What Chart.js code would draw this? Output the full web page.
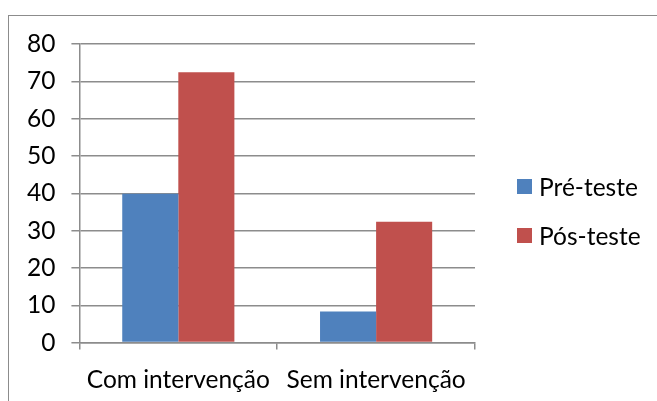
<!DOCTYPE html>
<html>
<head>
<meta charset="utf-8">
<script src="https://cdn.jsdelivr.net/npm/chart.js@4.4.1/dist/chart.umd.min.js"></script>
<style>
    body { margin: 0; background: #fff; }
    #wrap { position: relative; width: 657px; height: 401px; overflow: hidden; }
    #frame { position: absolute; left: 8px; top: 15px; width: 660px; height: 400px; border: 1.5px solid #8c8c8c; box-sizing: border-box; }
    canvas { position: absolute; left: 0; top: 0; }
    #legend { position: absolute; left: 517px; top: 162px; font-family: Lato, sans-serif; font-size: 24.5px; color: #000; }
    #legend .item { display: flex; align-items: center; height: 49px; }
    #legend .box { width: 15px; height: 15px; margin-right: 7px; }
</style>
</head>
<body>
<div id="wrap">
    <div id="frame"></div>
    <canvas id="chart" width="657" height="401"></canvas>
    <div id="legend"></div>
</div>
<script>
const categories = ['Com intervenção', 'Sem intervenção'];
const seriesNames = ['Pré-teste', 'Pós-teste'];
const preTeste = [39.9, 8.3];
const posTeste = [72.4, 32.4];

const fontSize = 24.5;

const ctx = document.getElementById('chart').getContext('2d');
const chart = new Chart(ctx, {
    type: 'bar',
    data: {
        labels: categories,
        datasets: [{
            label: seriesNames[0],
            data: preTeste,
            backgroundColor: '#4F81BD',
            barPercentage: 1.0,
            categoryPercentage: 0.567
        }, {
            label: seriesNames[1],
            data: posTeste,
            backgroundColor: '#C0504D',
            barPercentage: 1.0,
            categoryPercentage: 0.567
        }]
    },
    options: {
        responsive: false,
        animation: false,
        layout: {
            padding: { left: 11, top: 44, right: 182, bottom: -10 }
        },
        plugins: {
            tooltip: { enabled: false },
            legend: { display: false }
        },
        scales: {
            y: {
                min: 0,
                max: 80,
                ticks: {
                    stepSize: 10,
                    padding: 16,
                    color: '#000',
                    font: { family: 'Lato', size: fontSize }
                },
                grid: {
                    color: '#8c8c8c',
                    lineWidth: 1.5,
                    tickLength: 8
                },
                border: { color: '#8c8c8c', width: 1.5 }
            },
            x: {
                ticks: {
                    padding: 16,
                    color: '#000',
                    font: { family: 'Lato', size: fontSize }
                },
                grid: {
                    offset: true,
                    drawOnChartArea: false,
                    color: '#8c8c8c',
                    lineWidth: 1.5,
                    tickLength: 7
                },
                border: { color: '#8c8c8c', width: 1.5 }
            }
        }
    }
});

// legend built from the chart's datasets, placed like the original
const legendEl = document.getElementById('legend');
chart.data.datasets.forEach(ds => {
    const item = document.createElement('div');
    item.className = 'item';
    const box = document.createElement('span');
    box.className = 'box';
    box.style.background = ds.backgroundColor;
    const text = document.createElement('span');
    text.textContent = ds.label;
    item.appendChild(box);
    item.appendChild(text);
    legendEl.appendChild(item);
});
</script>
</body>
</html>
